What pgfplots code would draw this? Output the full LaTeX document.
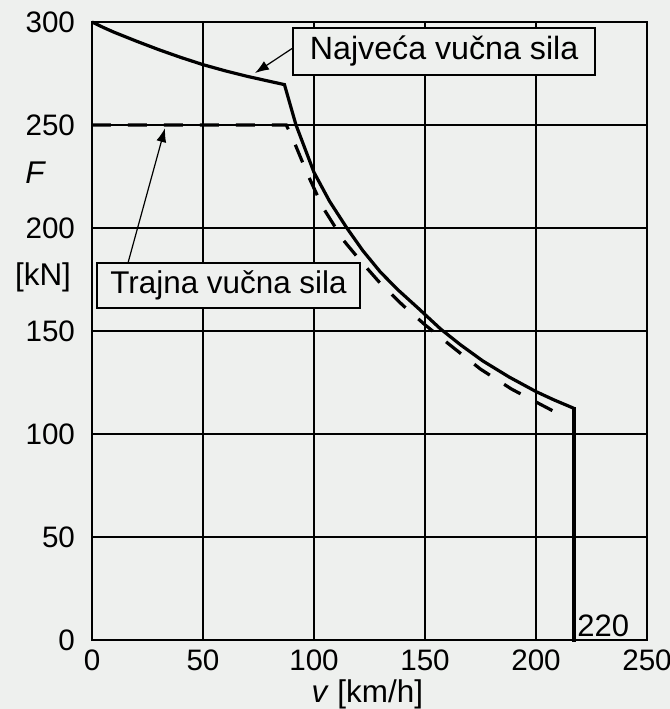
\documentclass[border=0pt]{standalone}
\usepackage{pgfplots}
\pgfplotsset{compat=1.18}
\usepackage{fontspec}
\setmainfont{Liberation Sans}
\usetikzlibrary{arrows.meta,backgrounds}
\definecolor{bgc}{RGB}{238,240,238}

\begin{document}
\begin{tikzpicture}
\begin{axis}[name=ax,
  width=277.5pt, height=309pt, scale only axis,
  xmin=0, xmax=250, ymin=0, ymax=300,
  xtick={0,50,...,250}, ytick={0,50,...,300},
  grid=major, major grid style={black, line width=0.8pt},
  axis line style={black, line width=0.9pt},
  major tick length=0pt,
  tick label style={font=\fontsize{14.8}{16}\selectfont},
  /pgf/number format/assume math mode=true,
  yticklabel style={xshift=-5pt},
  xticklabel style={yshift=-1.2pt},
  clip=false,
  axis background/.style={fill=bgc}]

% Najveca vucna sila (maximum tractive force)
\addplot[black, line width=1.6pt] coordinates {
  (0,300) (5,297.4) (10,295) (20,290.7) (30,286.6) (40,282.8) (50,279.3)
  (60,276.3) (70,273.6) (80,271.2) (86.7,269.6)
  (91.9,250) (100,227) (107,213) (114.8,200) (122,189) (130,178.5)
  (138,169.8) (147,161) (157,151) (166,143.3) (176,135.5) (188,127.6)
  (200,120.6) (208,116.6) (217,112.5)
};
\addplot[black, line width=1.9pt] coordinates {(217,113) (217,-1)};

% Trajna vucna sila (continuous tractive force)
\addplot[black, line width=1.6pt, dash pattern=on 9.5pt off 8.5pt] coordinates {
  (0,250) (87.5,250) (90.4,243.5) (97,226.3) (104,210) (113.3,194)
  (121,184) (130,173) (140,162.5) (150,153) (161.5,143) (175,131.5)
  (189,121.8) (208,111)
};

\draw[black, line width=0.6pt, -{Latex[length=7pt,width=5pt]}]
  (axis cs:90.5,287.4) -- (axis cs:73.4,275.2);
\draw[black, line width=0.6pt, -{Latex[length=7pt,width=5pt]}]
  (axis cs:16.2,183) -- (axis cs:32.9,248.5);

\node[draw=black, line width=1pt, fill=bgc, minimum width=151pt,
  minimum height=23.5pt, inner sep=0pt, font=\fontsize{16.1}{18}\selectfont]
  at (axis cs:158.6,285.7) {Najveća vučna sila};
\node[draw=black, line width=1pt, fill=bgc, minimum width=131.5pt,
  minimum height=22.5pt, inner sep=0pt, font=\fontsize{15.7}{18}\selectfont]
  at (axis cs:61.5,172.1) {Trajna vučna sila};

\node[anchor=south west, inner sep=0pt, font=\fontsize{15.5}{17}\selectfont]
  at (axis cs:218.5,1.5) {220};

\node[font=\fontsize{15.7}{18}\selectfont\itshape]
  at ([xshift=-28.5pt]axis cs:0,227) {F};
\node[font=\fontsize{15.7}{18}\selectfont]
  at ([xshift=-24.5pt]axis cs:0,176) {[kN]};
\node[font=\fontsize{15.7}{18}\selectfont]
  at ([yshift=-27pt]axis cs:124,0) {\textit{v} [km/h]};
\end{axis}
\pgfresetboundingbox
\path[use as bounding box] ([shift={(-46pt,-34.5pt)}]ax.south west)
  rectangle ([shift={(11.5pt,11pt)}]ax.north east);
\begin{scope}[on background layer]
\fill[bgc] ([shift={(-46pt,-34.5pt)}]ax.south west)
  rectangle ([shift={(11.5pt,11pt)}]ax.north east);
\end{scope}
\end{tikzpicture}
\end{document}
